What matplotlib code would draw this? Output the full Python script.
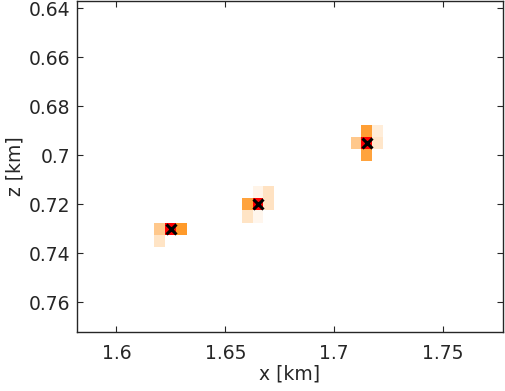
import numpy as np
import matplotlib
matplotlib.use("Agg")
from matplotlib import pyplot as plt
from matplotlib.colors import LinearSegmentedColormap
from matplotlib.ticker import FormatStrFormatter

# cell centres (km) and normalised amplitude of the imaged sources
cell_x = [1.620, 1.625, 1.630, 1.620,
          1.660, 1.665, 1.670, 1.665, 1.670, 1.660, 1.665,
          1.710, 1.715, 1.715, 1.715, 1.720, 1.720]
cell_z = [0.730, 0.730, 0.730, 0.735,
          0.720, 0.720, 0.720, 0.715, 0.715, 0.725, 0.725,
          0.695, 0.690, 0.695, 0.700, 0.690, 0.695]
cell_val = [0.30, 1.00, 0.55, 0.15,
            0.50, 1.00, 0.16, 0.06, 0.16, 0.15, 0.05,
            0.30, 0.52, 1.00, 0.50, 0.10, 0.14]

# true source positions
src_x = [1.625, 1.665, 1.715]
src_z = [0.730, 0.720, 0.695]

x_ticks = [1.6, 1.65, 1.7, 1.75]
z_ticks = [0.64, 0.66, 0.68, 0.70, 0.72, 0.74, 0.76]

# build the image grid
dx = 0.005
xc = np.round(np.arange(1.580, 1.780 + dx / 2, dx), 3)
zc = np.round(np.arange(0.635, 0.775 + dx / 2, dx), 3)
grid = np.full((len(zc), len(xc)), np.nan)
for x, z, v in zip(cell_x, cell_z, cell_val):
    i = int(np.argmin(abs(zc - z)))
    j = int(np.argmin(abs(xc - x)))
    grid[i, j] = v
xe = np.append(xc - dx / 2, xc[-1] + dx / 2)
ze = np.append(zc - dx / 2, zc[-1] + dx / 2)

cmap = LinearSegmentedColormap.from_list(
    "wor", [(0.0, "#ffffff"), (0.55, "#ff9a2a"), (0.8, "#ff6a10"), (1.0, "#ff0000")])

txt = "#262626"
plt.rcParams['font.family'] = ['DejaVu Sans']
plt.rcParams['font.size'] = 13.5

fig = plt.figure(figsize=(5.06, 3.91), dpi=100)
ax = fig.add_axes([0.1528, 0.1517, 0.8407, 0.845])

ax.pcolormesh(xe, ze, np.ma.masked_invalid(grid), cmap=cmap, vmin=0, vmax=1)
ax.plot(src_x, src_z, 'x', color='black', markersize=7.5, markeredgewidth=2.2)

ax.set_xlim(1.5821, 1.7773)
ax.set_ylim(0.772, 0.6371)
ax.set_xticks(x_ticks)
ax.set_yticks(z_ticks)
ax.xaxis.set_major_formatter(FormatStrFormatter('%g'))
ax.yaxis.set_major_formatter(FormatStrFormatter('%g'))
ax.tick_params(direction='in', top=True, right=True, length=4.5, width=0.8,
               colors=txt, labelcolor=txt)
ax.tick_params(axis='x', pad=9)
ax.tick_params(axis='y', pad=5)
for s in ax.spines.values():
    s.set_color(txt)
    s.set_linewidth(1.0)

ax.set_xlabel('x [km]', color=txt, labelpad=1)
ax.set_ylabel('z [km]', color=txt, labelpad=3)

fig.savefig('out.png', dpi=100)
